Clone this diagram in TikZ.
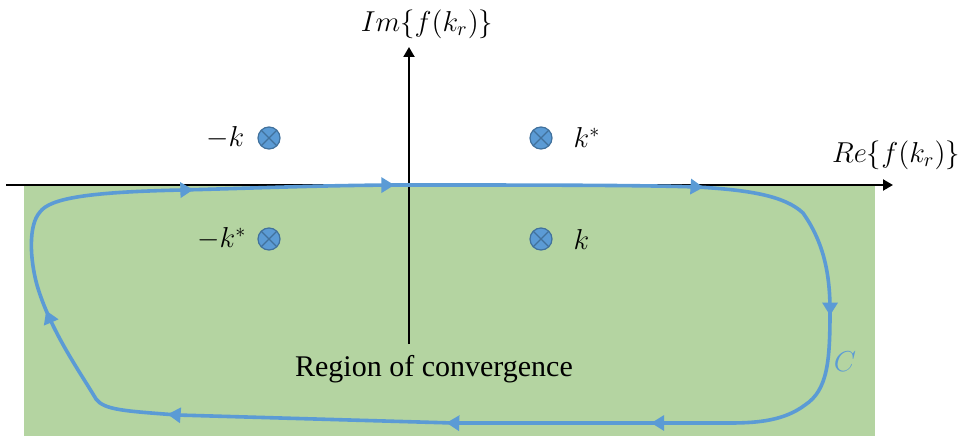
\documentclass[tikz,border=0pt]{standalone}
\usepackage{fontspec}
\setmainfont{Liberation Serif}
\usetikzlibrary{arrows.meta,decorations.markings,positioning}
\definecolor{roc}{RGB}{180,212,161}
\definecolor{cblue}{RGB}{91,155,213}
\definecolor{cedge}{RGB}{65,113,156}
\newcommand{\FlowTip}{Triangle[length=6.5pt,width=7.5pt]}
\tikzset{pole/.style={circle,draw=cedge,fill=cblue,line width=.6pt,minimum size=11pt,inner sep=0pt,path picture={\draw[cedge,line width=.6pt](path picture bounding box.north west)--(path picture bounding box.south east)(path picture bounding box.north east)--(path picture bounding box.south west);}}}
\tikzset{flow/.style={decoration={markings,mark=at position .083 with{\arrow{\FlowTip}},mark=at position .189 with{\arrow{\FlowTip}},mark=at position .352 with{\arrow{\FlowTip}},mark=at position .464 with{\arrow{\FlowTip}},mark=at position .598 with{\arrow{\FlowTip}},mark=at position .706 with{\arrow{\FlowTip}},mark=at position .853 with{\arrow{\FlowTip}},mark=at position .946 with{\arrow{\FlowTip}}},postaction={decorate}}}
\tikzset{lbl/.style={font=\fontsize{14}{16}\selectfont}}

\begin{document}
\begin{tikzpicture}[x=.5pt,y=-.5pt]
\useasboundingbox (0,0) rectangle (968,444);
\fill[roc](24,186)rectangle(875,436);
\begin{scope}[>={Triangle[length=5pt,width=5.5pt]},line width=1pt]
\draw[->](6,185)--(893,185);\draw[->](409,344)--(409,47);
\end{scope}
\node[lbl] (re) at (896,155) {$Re\{f(k_r)\}$};
\node[lbl,anchor=north] (im) at (427,3) {$Im\{f(k_r)\}$};
\node[lbl,font=\fontsize{15}{17}\selectfont] (roc) at (434,369) {Region of convergence};
% poles
\node[pole] (pA) at (269,138) {};\node[pole] (pB) at (541,138) {};
\node[pole] (pC) at (269,239) {};\node[pole] (pD) at (541,239) {};
\node[lbl,left=3pt of pA] {$-k$};\node[lbl,right=7pt of pB] {$k^*$};
\node[lbl,left=2pt of pC] {$-k^*$};\node[lbl,right=7pt of pD] {$k$};
% contour
\draw[cblue,line width=1.8pt,flow](40,212) .. controls (50,198) and (90,192) .. (182,190) .. controls (260,188) and (330,185) .. (409,185) .. controls (520,185) and (640,185) .. (697,187) .. controls (750,190) and (785,196) .. (803,213) .. controls (822,240) and (830,270) .. (830,310) .. controls (830,360) and (828,390) .. (805,405) .. controls (785,420) and (760,423) .. (730,423)--(453,423)--(177,415) .. controls (125,411) and (104,410) .. (96,399) .. controls (80,372) and (50,330) .. (37,285) .. controls (30,260) and (28,225) .. cycle;
\node[lbl,text=cblue] (cc) at (845,362) {$C$};
\end{tikzpicture}
\end{document}
